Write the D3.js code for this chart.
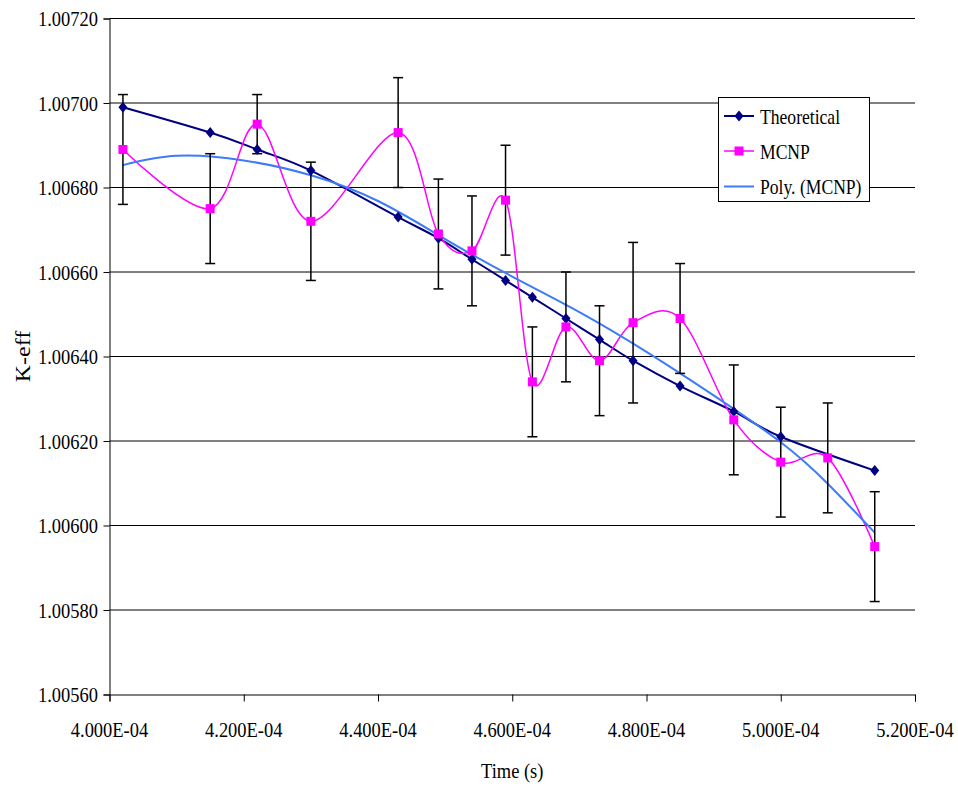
<!DOCTYPE html>
<html>
<head>
<meta charset="utf-8">
<script src="https://cdn.jsdelivr.net/npm/d3@7"></script>
<style>
  html, body { margin: 0; padding: 0; background: #ffffff; }
  svg { display: block; }
  text { font-family: "Liberation Serif", "Times New Roman", serif; fill: #000; }
</style>
</head>
<body>
<svg id="chart" width="958" height="789"></svg>
<script>
// Sample times (s) of the MCNP runs
const timeValues = [4.02e-4, 4.15e-4, 4.22e-4, 4.30e-4, 4.43e-4, 4.49e-4, 4.54e-4, 4.59e-4, 4.63e-4,
                    4.68e-4, 4.73e-4, 4.78e-4, 4.85e-4, 4.93e-4, 5.00e-4, 5.07e-4, 5.14e-4];
// Theoretical K-eff and its times
const theoryTime = [4.02e-4, 4.15e-4, 4.22e-4, 4.30e-4, 4.43e-4, 4.49e-4, 4.54e-4, 4.59e-4, 4.63e-4,
                    4.68e-4, 4.73e-4, 4.78e-4, 4.85e-4, 4.93e-4, 5.00e-4, 5.14e-4];
const theoretical = [1.00699, 1.00693, 1.00689, 1.00684, 1.00673, 1.00668, 1.00663, 1.00658, 1.00654,
                     1.00649, 1.00644, 1.00639, 1.00633, 1.00627, 1.00621, 1.00613];
// MCNP K-eff and its standard deviation
const mcnp = [1.00689, 1.00675, 1.00695, 1.00672, 1.00693, 1.00669, 1.00665, 1.00677, 1.00634,
              1.00647, 1.00639, 1.00648, 1.00649, 1.00625, 1.00615, 1.00616, 1.00595];
const mcnpError = [0.00013, 0.00013, 0.00007, 0.00014, 0.00013, 0.00013, 0.00013, 0.00013, 0.00013,
                   0.00013, 0.00013, 0.00019, 0.00013, 0.00013, 0.00013, 0.00013, 0.00013];
// Polynomial trendline of the MCNP series
const trendTime = [4.02e-4, 4.10e-4, 4.20e-4, 4.30e-4, 4.40e-4, 4.50e-4, 4.60e-4, 4.70e-4,
                   4.80e-4, 4.90e-4, 5.00e-4, 5.07e-4, 5.14e-4];
const trendValues = [1.006853, 1.006875, 1.006864, 1.006829, 1.006768, 1.006678, 1.006589, 1.006505,
                     1.006411, 1.006308, 1.006197, 1.006099, 1.005983];
// Axis ticks
const xTicks = [4.0e-4, 4.2e-4, 4.4e-4, 4.6e-4, 4.8e-4, 5.0e-4, 5.2e-4];
const yTicks = [1.0056, 1.0058, 1.0060, 1.0062, 1.0064, 1.0066, 1.0068, 1.0070, 1.0072];
const legendLabels = ["Theoretical", "MCNP", "Poly. (MCNP)"];

const colTheo = "#000080", colMcnp = "#ff00ff", colTrend = "#3d7cf6";
const squeeze = 0.84;

const svg = d3.select("#chart");
const plotLeft = 109.5, plotRight = 915, plotTop = 18.5, plotBottom = 694.5;

const x = d3.scaleLinear().domain([4.0e-4, 5.2e-4]).range([plotLeft, plotRight]);
const y = d3.scaleLinear().domain([1.0056, 1.0072]).range([plotBottom, plotTop]);

function sciLabel(v) {
  const [m, e] = v.toExponential(3).split("e");
  const ex = parseInt(e, 10);
  return m + "E" + (ex < 0 ? "-" : "+") + String(Math.abs(ex)).padStart(2, "0");
}

// Horizontal gridlines
svg.append("g").selectAll("line")
  .data(yTicks.slice(1))
  .join("line")
  .attr("x1", plotLeft).attr("x2", plotRight)
  .attr("y1", d => y(d)).attr("y2", d => y(d))
  .attr("stroke", "#000").attr("stroke-width", 1);

// Y axis
const yAxis = svg.append("g").attr("transform", `translate(${plotLeft},0)`)
  .call(d3.axisLeft(y).tickValues(yTicks).tickSize(6).tickFormat(() => ""));
yAxis.select(".domain").attr("stroke", "#000");
yAxis.selectAll(".tick line").attr("stroke", "#000");

svg.append("g").selectAll("text")
  .data(yTicks)
  .join("text")
  .attr("transform", d => `translate(98,${y(d) + 7.5}) scale(${squeeze},1)`)
  .attr("text-anchor", "end")
  .attr("font-size", 22)
  .text(d => d3.format(".5f")(d));

// X axis
const xAxis = svg.append("g").attr("transform", `translate(0,${plotBottom})`)
  .call(d3.axisBottom(x).tickValues(xTicks).tickSize(7).tickFormat(() => ""));
xAxis.select(".domain").attr("stroke", "#000");
xAxis.selectAll(".tick line").attr("stroke", "#000");

svg.append("g").selectAll("text")
  .data(xTicks)
  .join("text")
  .attr("transform", d => `translate(${x(d)},737) scale(${squeeze},1)`)
  .attr("text-anchor", "middle")
  .attr("font-size", 22)
  .text(sciLabel);

// Axis titles
svg.append("text")
  .attr("transform", `translate(${(plotLeft + plotRight) / 2},778) scale(${squeeze},1)`)
  .attr("text-anchor", "middle")
  .attr("font-size", 22)
  .text("Time (s)");

svg.append("text")
  .attr("transform", `translate(30,${(plotTop + plotBottom) / 2}) rotate(-90) scale(1,${squeeze})`)
  .attr("text-anchor", "middle")
  .attr("font-size", 24)
  .text("K-eff");

// Series
const theoPts = theoryTime.map((t, i) => [t, theoretical[i]]);
const mcnpPts = timeValues.map((t, i) => [t, mcnp[i], mcnpError[i]]);
const trendPts = trendTime.map((t, i) => [t, trendValues[i]]);

const smooth = d3.line().x(d => x(d[0])).y(d => y(d[1])).curve(d3.curveCatmullRom.alpha(0));

svg.append("path").datum(theoPts).attr("d", smooth)
  .attr("fill", "none").attr("stroke", colTheo).attr("stroke-width", 2);

svg.append("path").datum(mcnpPts).attr("d", smooth)
  .attr("fill", "none").attr("stroke", colMcnp).attr("stroke-width", 1.5);

svg.append("path").datum(trendPts)
  .attr("d", d3.line().x(d => x(d[0])).y(d => y(d[1])).curve(d3.curveNatural))
  .attr("fill", "none").attr("stroke", colTrend).attr("stroke-width", 2);

// Error bars
const eb = svg.append("g").attr("stroke", "#000").attr("stroke-width", 1.5);
eb.selectAll("line.v").data(mcnpPts).join("line").attr("class", "v")
  .attr("x1", d => x(d[0])).attr("x2", d => x(d[0]))
  .attr("y1", d => y(d[1] + d[2])).attr("y2", d => y(d[1] - d[2]));
eb.selectAll("line.t").data(mcnpPts).join("line").attr("class", "t")
  .attr("x1", d => x(d[0]) - 5).attr("x2", d => x(d[0]) + 5)
  .attr("y1", d => y(d[1] + d[2])).attr("y2", d => y(d[1] + d[2]));
eb.selectAll("line.b").data(mcnpPts).join("line").attr("class", "b")
  .attr("x1", d => x(d[0]) - 5).attr("x2", d => x(d[0]) + 5)
  .attr("y1", d => y(d[1] - d[2])).attr("y2", d => y(d[1] - d[2]));

// Markers
const diamond = "M0,-5.5L4.5,0L0,5.5L-4.5,0Z";
svg.append("g").selectAll("path").data(theoPts).join("path")
  .attr("transform", d => `translate(${x(d[0])},${y(d[1])})`)
  .attr("d", diamond).attr("fill", colTheo);

svg.append("g").selectAll("rect").data(mcnpPts).join("rect")
  .attr("x", d => x(d[0]) - 4.5).attr("y", d => y(d[1]) - 4.5)
  .attr("width", 9).attr("height", 9).attr("fill", colMcnp);

// Legend
const lg = svg.append("g");
lg.append("rect").attr("x", 718.5).attr("y", 97.5).attr("width", 151).attr("height", 104)
  .attr("fill", "#fff").attr("stroke", "#000").attr("stroke-width", 1);
const rows = [116, 151, 186.5];
const lgColors = [colTheo, colMcnp, colTrend];
legendLabels.forEach((lab, i) => {
  const ry = rows[i];
  lg.append("line").attr("x1", 724).attr("x2", 754).attr("y1", ry).attr("y2", ry)
    .attr("stroke", lgColors[i]).attr("stroke-width", i === 1 ? 1.5 : 2);
  if (i === 0) lg.append("path").attr("transform", `translate(739,${ry})`).attr("d", diamond).attr("fill", colTheo);
  if (i === 1) lg.append("rect").attr("x", 734.5).attr("y", ry - 4.5).attr("width", 9).attr("height", 9).attr("fill", colMcnp);
  lg.append("text")
    .attr("transform", `translate(760,${ry + 7.5}) scale(0.8,1)`)
    .attr("font-size", 22)
    .text(lab);
});
</script>
</body>
</html>
